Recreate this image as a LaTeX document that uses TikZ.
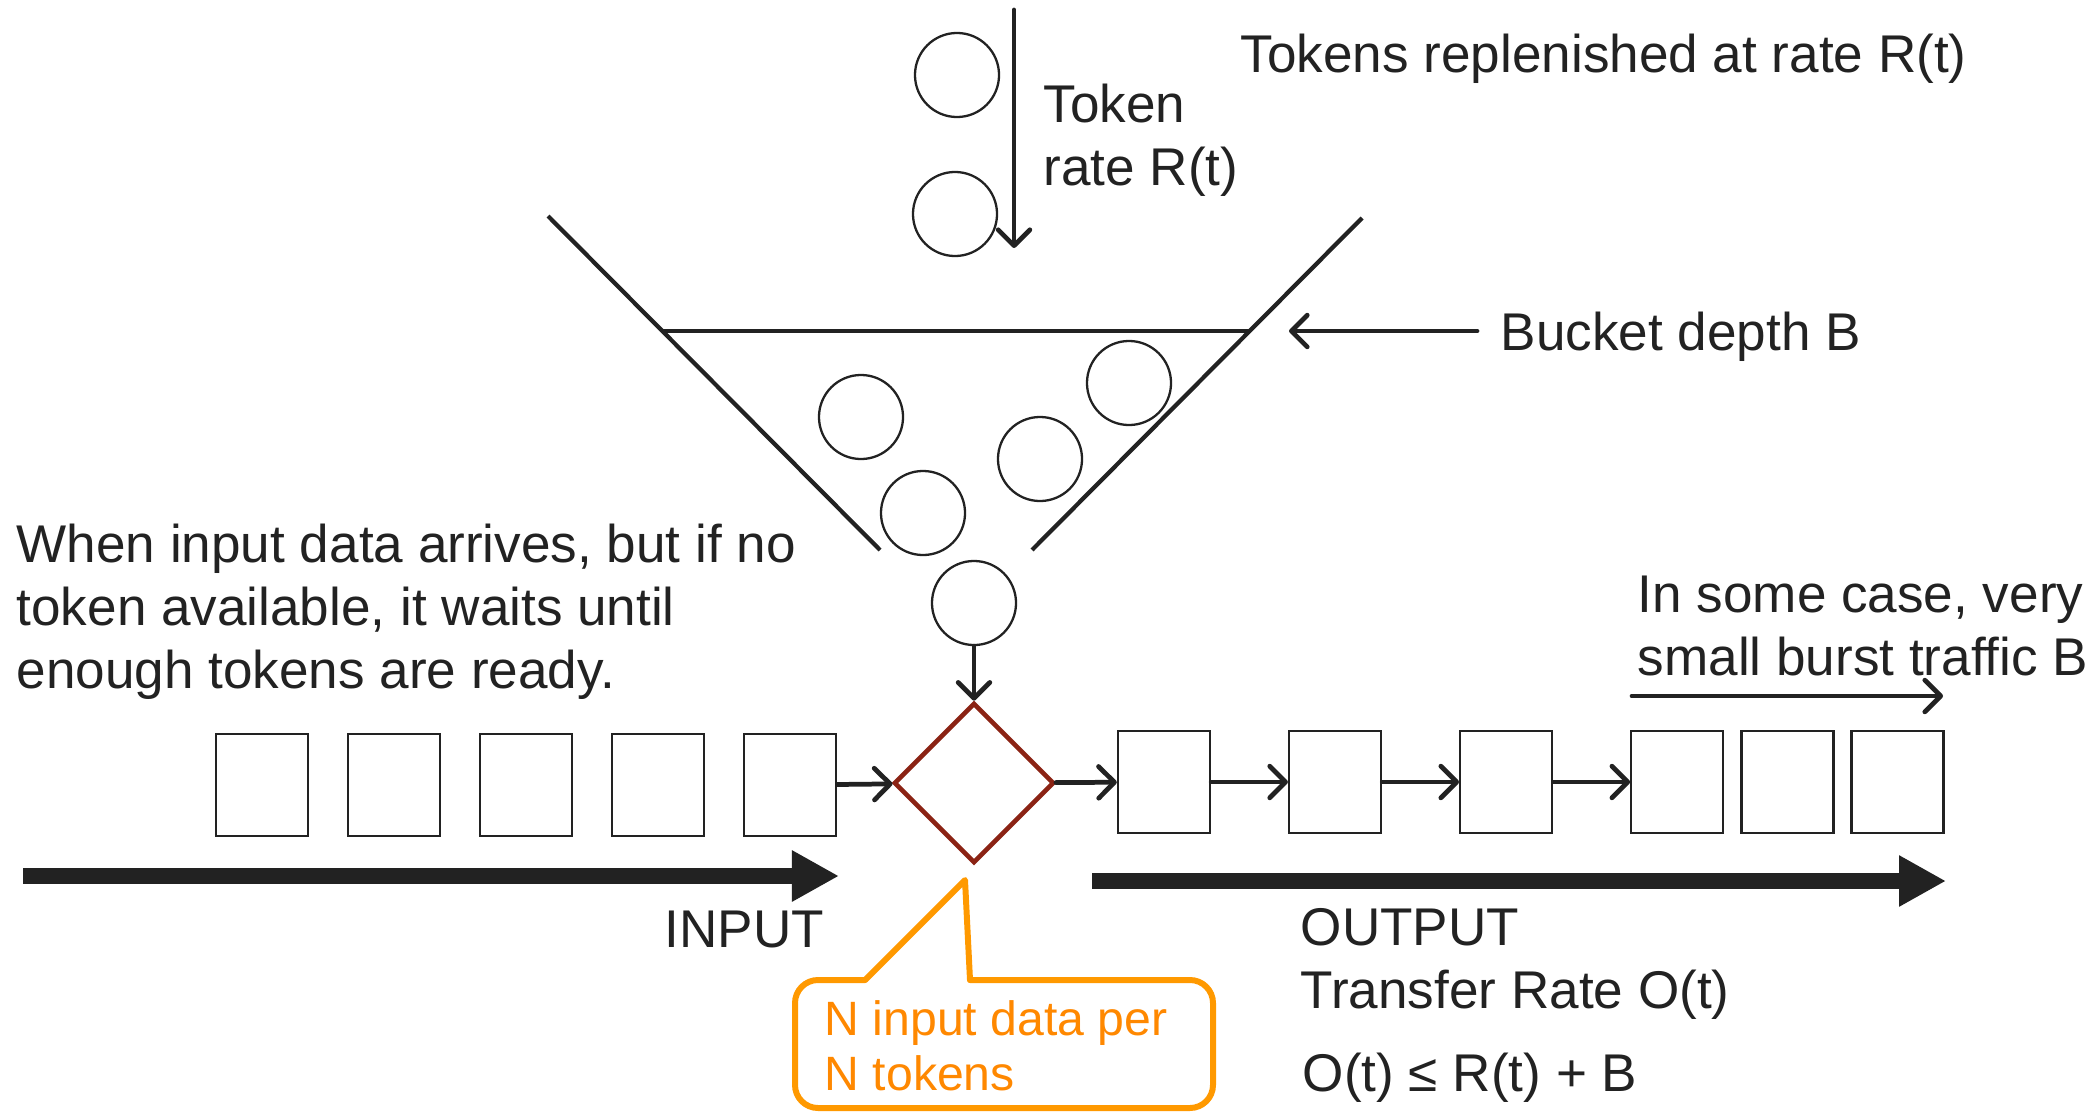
\documentclass[tikz,border=0pt]{standalone}
\usepackage{fontspec}
\setmainfont{Liberation Sans}
\usepackage{xcolor}
\usetikzlibrary{arrows.meta,shapes.geometric,positioning}
\definecolor{ink}{HTML}{222222}
\definecolor{gatered}{HTML}{8B2314}
\definecolor{noteorange}{HTML}{FF9900}
\definecolor{notetext}{HTML}{FF8800}

\begin{document}
\begin{tikzpicture}[x=0.01cm,y=-0.01cm,node distance=1.32cm,
                    font=\fontsize{15.1}{17.9}\selectfont,
                    token/.style={circle,draw=ink,line width=0.65pt,minimum size=0.84cm,inner sep=0pt},
                    packet/.style={rectangle,draw=ink,line width=0.65pt,minimum width=0.92cm,minimum height=1.02cm,inner sep=0pt},
                    gate/.style={diamond,draw=gatered,line width=1.3pt,minimum width=1.6cm,minimum height=1.6cm,inner sep=0pt},
                    arr/.style={draw=ink,line width=1.35pt,line cap=round,-{Straight Barb[length=4.5pt,width=9pt,round]}},
                    wall/.style={draw=ink,line width=1.2pt},
                    flow/.style={draw=ink,line width=4.3pt,-{Triangle[length=0.47cm,width=0.48cm]}},
                    txt/.style={anchor=base west,inner sep=0pt,align=left,text=ink}]

  \path[use as bounding box,fill=white] (0,0) rectangle (2094,1112);

  % bucket
  \draw[wall] (548,216) -- (880,550);
  \draw[wall] (1362,218) -- (1032,550);
  \draw[wall] (662,331) -- (1250,331);

  \node[token] (t1) at (957,75) {};
  \node[token] (t2) at (955,214) {};
  \node[token] (t3) at (861,417) {};
  \node[token] (t4) at (1129,383) {};
  \node[token] (t5) at (1040,459) {};
  \node[token] (t6) at (923,513) {};
  \node[token] (t7) at (974,603) {};

  \coordinate (rtop) at (1014,10);
  \coordinate (rbot) at (1014,248);
  \draw[arr] (rtop) -- (rbot);

  % multi-line nodes sit on their last baseline
  \node[txt] (rate) at (1043,185) {Token\\rate R(t)};
  \node[txt] (refill) at (1240,72) {Tokens replenished at rate R(t)};

  \coordinate (rim) at (1289,331);
  \node[txt,inner xsep=0.23cm] (depth) at (1477,350) {Bucket depth B};
  \draw[arr] (depth.west |- rim) -- (rim);

  % queues
  \node[packet] (p1) at (262,785) {};
  \node[packet] (p2) [right of=p1] {};
  \node[packet] (p3) [right of=p2] {};
  \node[packet] (p4) [right of=p3] {};
  \node[packet] (p5) [right of=p4] {};

  \node[gate] (gate) at (974,783) {};

  \node[packet] (o1) at (1164,782) {};
  \node[packet] (o2) [node distance=1.71cm,right of=o1] {};
  \node[packet] (o3) [node distance=1.71cm,right of=o2] {};
  \node[packet] (o4) [node distance=1.71cm,right of=o3] {};
  \node[packet] (o5) [node distance=1.10cm,right of=o4] {};
  \node[packet] (o6) [node distance=1.10cm,right of=o5] {};

  \path[arr]
    (p5) edge (gate)
    (gate) edge (o1)
    (o1) edge (o2)
    (o2) edge (o3)
    (o3) edge (o4)
    (t7) edge (gate);

  \coordinate (b0) at (1632,696);
  \coordinate (b1) at (1943,696);
  \draw[arr] (b0) -- (b1);
  \node[txt] (burst) at (1637,675) {In some case, very\\small burst traffic B};

  % input / output
  \coordinate (in0) at (23,876);
  \coordinate (in1) at (839,876);
  \coordinate (out0) at (1092,881);
  \coordinate (out1) at (1946,881);
  \draw[flow] (in0) -- (in1);
  \draw[flow] (out0) -- (out1);

  \node[txt] (input) at (664,947) {INPUT};
  \node[txt] (output) at (1300,1008) {OUTPUT\\Transfer Rate O(t)};
  \node[txt] (bound) at (1302,1091) {O(t) ≤ R(t) + B};
  \node[txt] (wait) at (16,688) {When input data arrives, but if no\\token available, it waits until\\enough tokens are ready.};

  % callout
  \draw[noteorange,line width=1.7pt,line cap=round,line join=round] (865,980) -- (965,880) -- (970,980);
  \draw[noteorange,line width=1.7pt,line cap=round,rounded corners=0.23cm] (970,980) -- (1213,980) -- (1213,1108) -- (795,1108) -- (795,980) -- (865,980);
  \node[txt,text=notetext,font=\fontsize{13.7}{15.6}\selectfont] (note) at (824,1090) {N input data per\\N tokens};

\end{tikzpicture}
\end{document}
